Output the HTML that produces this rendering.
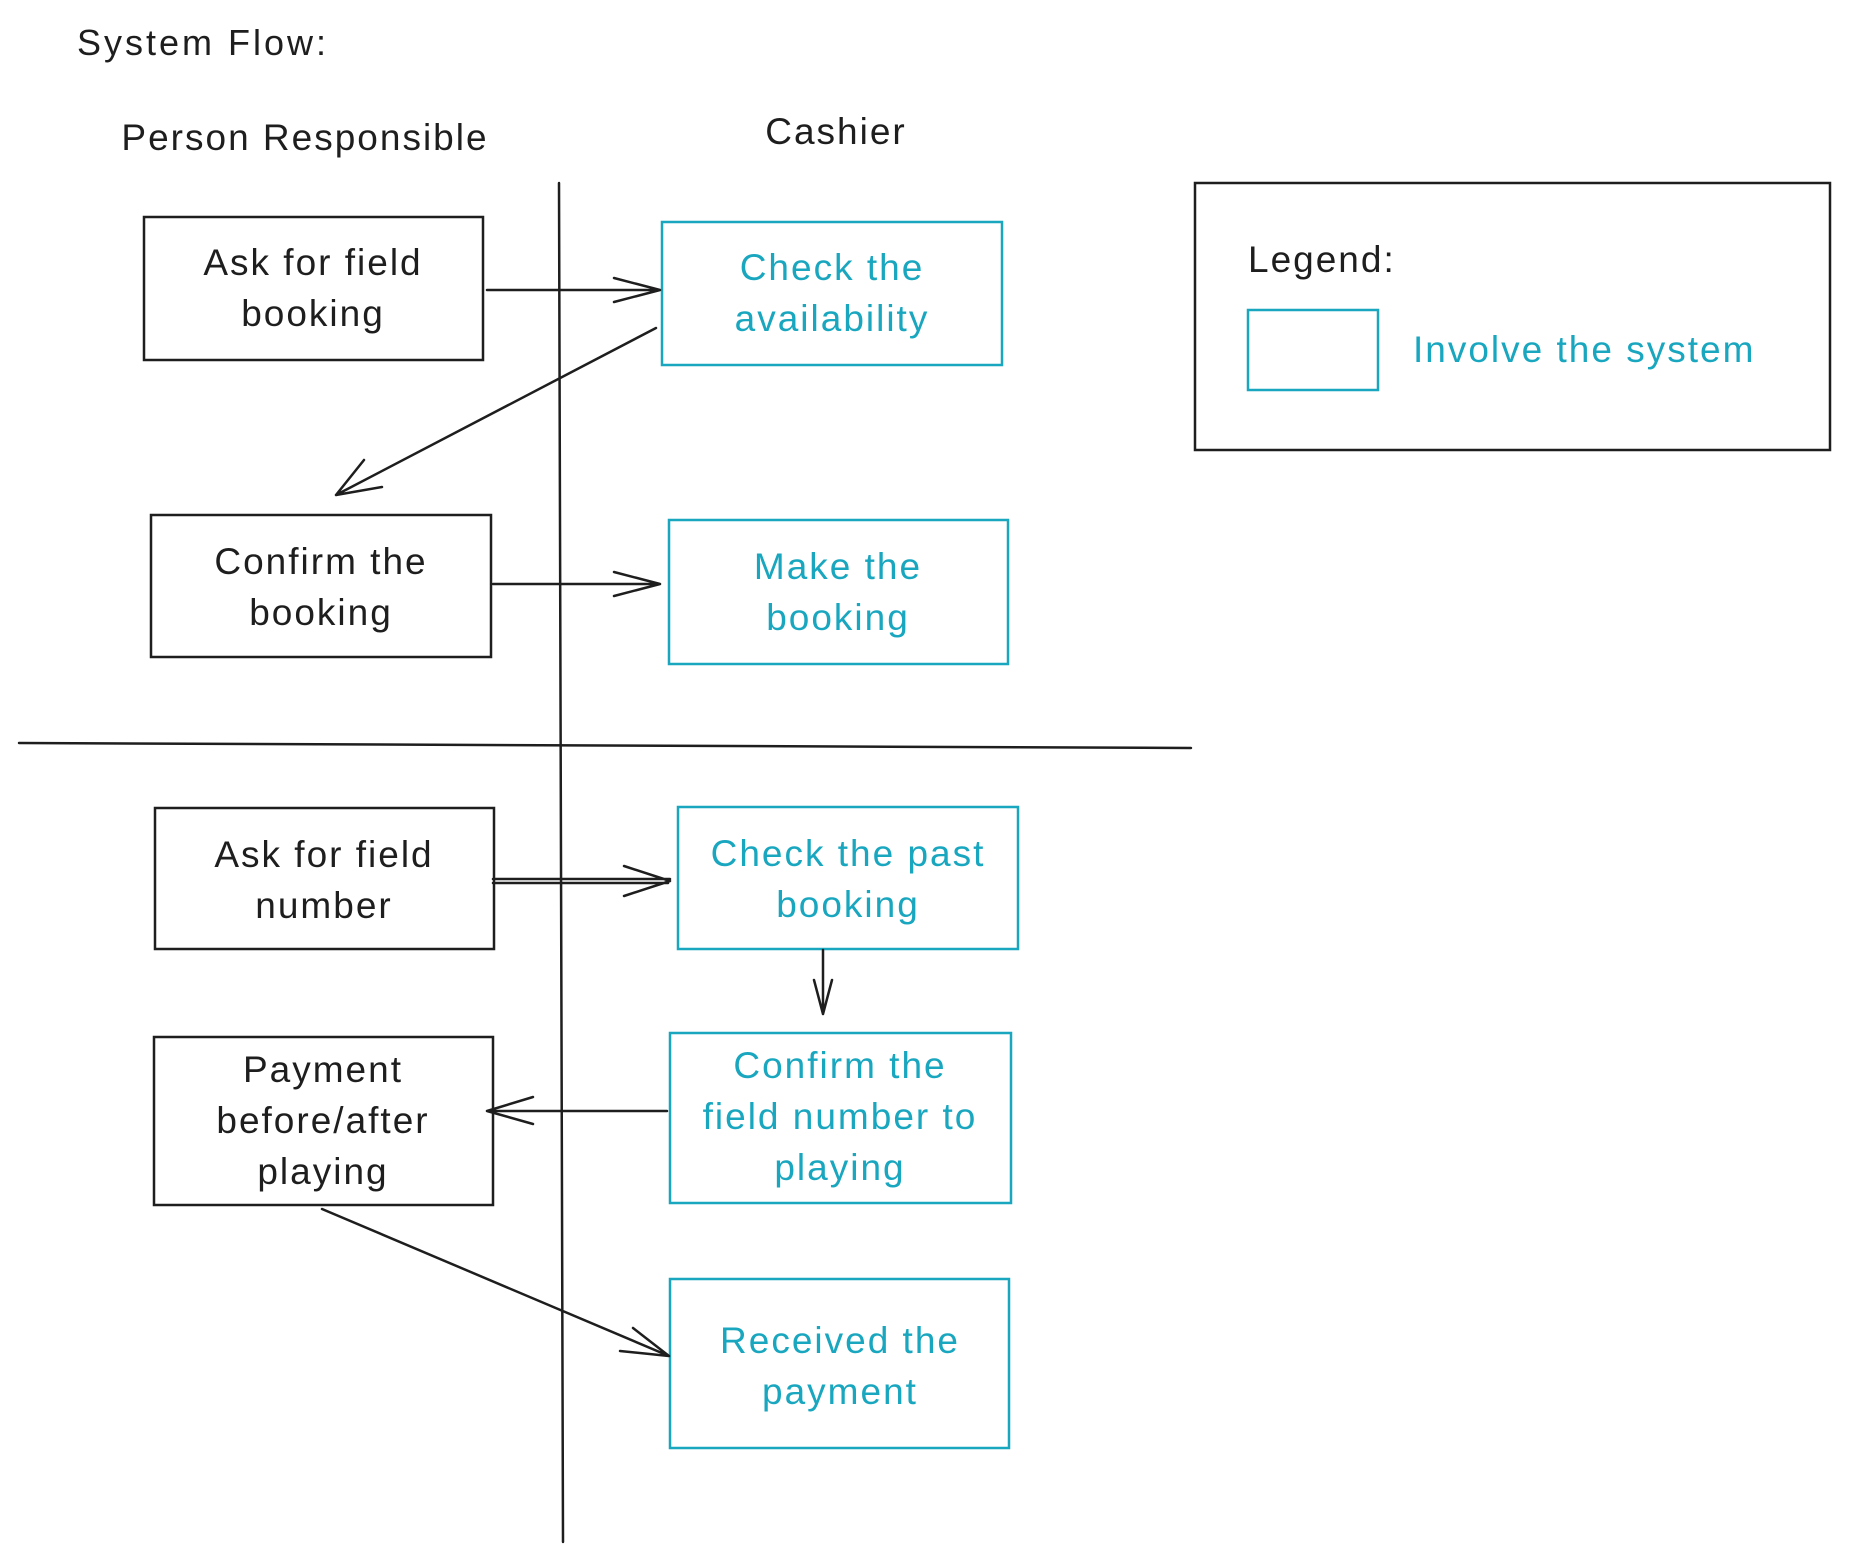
<!DOCTYPE html>
<html><head><meta charset="utf-8"><style>
html,body{margin:0;padding:0;background:#fff;}
svg{display:block;}
text{font-family:"Liberation Sans",sans-serif;font-size:37px;text-anchor:middle;letter-spacing:2px;}
.k{fill:#1e1e1e;}
.c{fill:#19a6bf;}
.bk{fill:none;stroke:#1e1e1e;stroke-width:2.5;}
.bc{fill:none;stroke:#19a6bf;stroke-width:2.5;}
.ln{fill:none;stroke:#1e1e1e;stroke-width:2.5;stroke-linecap:round;}
</style></head><body>
<svg width="1849" height="1563" viewBox="0 0 1849 1563" xmlns="http://www.w3.org/2000/svg">
<text class="k" x="77" y="55" style="text-anchor:start;font-size:36px;letter-spacing:3px">System Flow:</text>
<text class="k" x="305" y="150">Person Responsible</text>
<text class="k" x="836" y="144">Cashier</text>

<line class="ln" x1="559" y1="183" x2="563" y2="1542"/>
<line class="ln" x1="19" y1="743" x2="1191" y2="748"/>

<rect class="bk" x="144" y="217" width="339" height="143"/>
<text class="k" x="313" y="275">Ask for field</text><text class="k" x="313" y="326">booking</text>
<rect class="bc" x="662" y="222" width="340" height="143"/>
<text class="c" x="832" y="280">Check the</text><text class="c" x="832" y="331">availability</text>

<rect class="bk" x="151" y="515" width="340" height="142"/>
<text class="k" x="321" y="574">Confirm the</text><text class="k" x="321" y="625">booking</text>
<rect class="bc" x="669" y="520" width="339" height="144"/>
<text class="c" x="838" y="579">Make the</text><text class="c" x="838" y="630">booking</text>

<rect class="bk" x="155" y="808" width="339" height="141"/>
<text class="k" x="324" y="867">Ask for field</text><text class="k" x="324" y="918">number</text>
<rect class="bc" x="678" y="807" width="340" height="142"/>
<text class="c" x="848" y="866">Check the past</text><text class="c" x="848" y="917">booking</text>

<rect class="bk" x="154" y="1037" width="339" height="168"/>
<text class="k" x="323" y="1082">Payment</text><text class="k" x="323" y="1133">before/after</text><text class="k" x="323" y="1184">playing</text>
<rect class="bc" x="670" y="1033" width="341" height="170"/>
<text class="c" x="840" y="1078">Confirm the</text><text class="c" x="840" y="1129">field number to</text><text class="c" x="840" y="1180">playing</text>

<rect class="bc" x="670" y="1279" width="339" height="169"/>
<text class="c" x="840" y="1353">Received the</text><text class="c" x="840" y="1404">payment</text>

<rect class="bk" x="1195" y="183" width="635" height="267"/>
<text class="k" x="1248" y="272" style="text-anchor:start">Legend:</text>
<rect class="bc" x="1248" y="310" width="130" height="80"/>
<text class="c" x="1413" y="362" style="text-anchor:start">Involve the system</text>

<path class="ln" d="M487 290 L660 290 M660 290 L614 278 M660 290 L614 302"/>
<path class="ln" d="M656 328 L336 495 M336 495 L364 460 M336 495 L382 487"/>
<path class="ln" d="M493 584 L660 584 M660 584 L614 572 M660 584 L614 596"/>
<path class="ln" d="M493 879 L670 879 M493 883 L668 883 M670 881 L624 866 M670 881 L624 896"/>
<path class="ln" d="M823 950 L823 1014 M823 1014 L814 980 M823 1014 L832 980"/>
<path class="ln" d="M667 1111 L487 1111 M487 1111 L533 1097 M487 1111 L533 1124"/>
<path class="ln" d="M322 1209 L669 1356 M669 1356 L633 1328 M669 1356 L620 1351"/>
</svg>
</body></html>
